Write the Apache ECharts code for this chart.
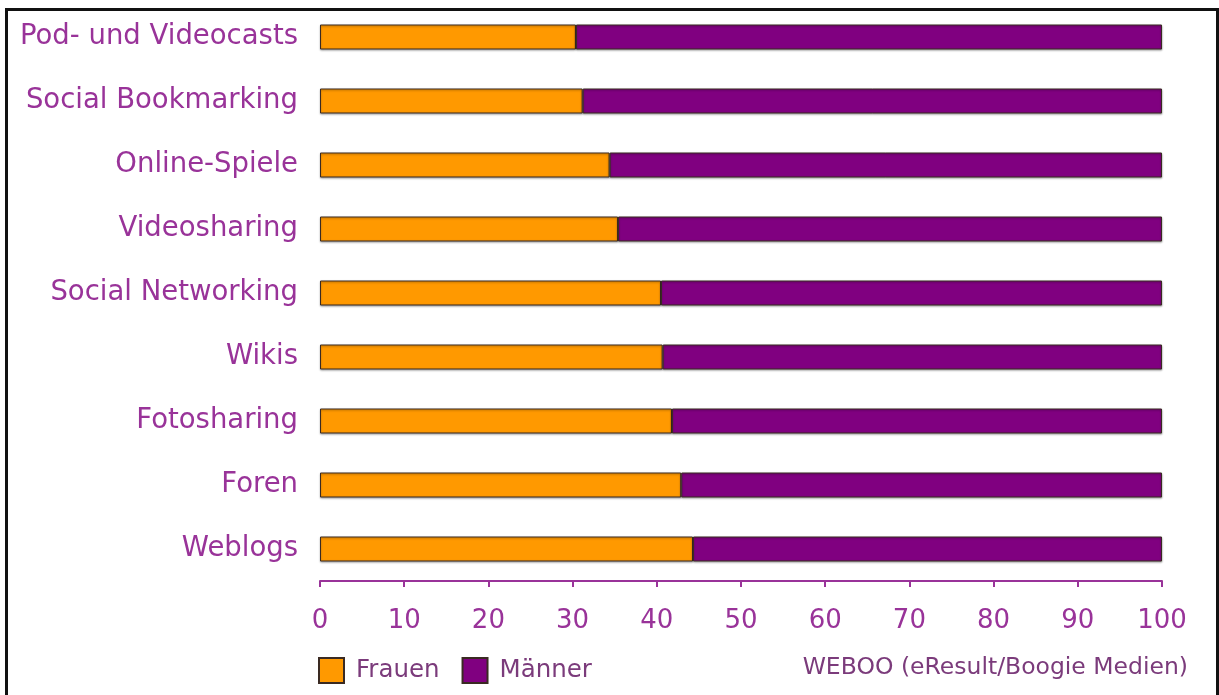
<!DOCTYPE html>
<html>
<head>
<meta charset="utf-8">
<title>Frauen und Männer im Web 2.0</title>
<script src="https://cdn.jsdelivr.net/npm/echarts@6/dist/echarts.min.js"></script>
<style>
  html, body { margin: 0; padding: 0; background: #fff; }
  #chart { width: 1219px; height: 695px; }
  #frame {
    position: absolute; left: 5px; top: 8px; width: 1208px; height: 700px;
    border: 3px solid #111; border-bottom: none; pointer-events: none;
  }
</style>
</head>
<body>
<div id="chart"></div>
<div id="frame"></div>
<script>
  const categories = [
    "Pod- und Videocasts",
    "Social Bookmarking",
    "Online-Spiele",
    "Videosharing",
    "Social Networking",
    "Wikis",
    "Fotosharing",
    "Foren",
    "Weblogs"
  ];
  const frauen = [30.4, 31.2, 34.4, 35.4, 40.5, 40.7, 41.8, 42.9, 44.3];
  const maenner = [69.6, 68.8, 65.6, 64.6, 59.5, 59.3, 58.2, 57.1, 55.7];
  const seriesNames = ["Frauen", "Männer"];
  const source = "WEBOO (eResult/Boogie Medien)";

  const purple = "#993399";
  const font = "DejaVu Sans, Verdana, sans-serif";

  const chart = echarts.init(document.getElementById("chart"), null, { renderer: "canvas" });

  function barStyle(color) {
    return {
      color: color,
      borderColor: "#3a2a22",
      borderWidth: 1,
      shadowColor: "rgba(0,0,0,0.35)",
      shadowBlur: 2,
      shadowOffsetY: 1
    };
  }

  chart.setOption({
    animation: false,
    textStyle: { fontFamily: font },
    grid: { left: 320, right: 57, top: 5, bottom: 114 },
    legend: {
      left: 318,
      top: 657,
      padding: 0,
      itemWidth: 25,
      itemHeight: 25,
      itemGap: 22,
      icon: "rect",
      data: seriesNames,
      textStyle: { color: "#7b3b7b", fontSize: 24.5, fontFamily: font, padding: [0, 0, 0, 7] }
    },
    xAxis: {
      type: "value",
      min: 0,
      max: 100,
      interval: 10,
      splitLine: { show: false },
      axisLine: { show: true, lineStyle: { color: purple, width: 2 } },
      axisTick: { show: true, length: 6, lineStyle: { color: purple, width: 2 } },
      axisLabel: { color: purple, fontSize: 26, margin: 27, fontFamily: font }
    },
    yAxis: {
      type: "category",
      inverse: true,
      data: categories,
      axisLine: { show: false },
      axisTick: { show: false },
      axisLabel: { color: purple, fontSize: 27.5, margin: 22, fontFamily: font, padding: [0, 0, -6, 0] }
    },
    graphic: [
      {
        type: "text",
        x: 1188,
        y: 668,
        style: {
          text: source,
          fill: "#7b3b7b",
          font: "23.5px " + font,
          align: "right",
          verticalAlign: "middle"
        }
      }
    ],
    series: [
      {
        name: seriesNames[0],
        type: "bar",
        stack: "total",
        barWidth: 25,
        data: frauen,
        itemStyle: barStyle("#ff9900")
      },
      {
        name: seriesNames[1],
        type: "bar",
        stack: "total",
        barWidth: 25,
        data: maenner,
        itemStyle: barStyle("#800080")
      }
    ]
  });

  window.addEventListener("resize", () => chart.resize());
</script>
</body>
</html>
